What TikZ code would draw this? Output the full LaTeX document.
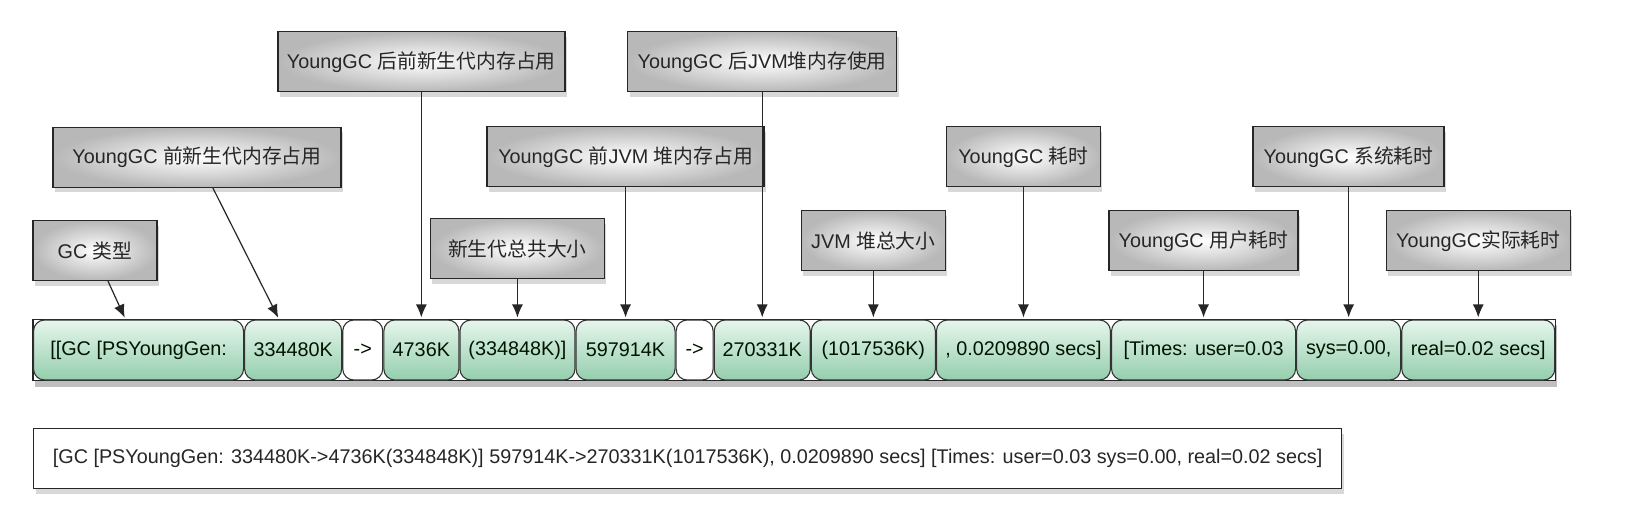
\documentclass[tikz,border=0pt]{standalone}
\usepackage{fontspec}
\setmainfont{Liberation Sans}
\newfontfamily\cjk{Noto Sans CJK SC}
\usetikzlibrary{shapes, arrows.meta, calc, positioning, shadows, backgrounds}

\definecolor{segtop}{HTML}{E6F6EC}
\definecolor{segbot}{HTML}{94CEAD}
\definecolor{ink}{HTML}{262626}

\begin{document}
\begin{tikzpicture}[x=1pt, y=-1pt, node distance=0pt, >={Latex[length=13pt,width=11pt]},
    txt/.style={font=\fontsize{19.8}{23}\selectfont, text=ink},
    seg/.style={txt, draw=black!80, line width=1.1pt, rounded corners=11pt,
        top color=segtop, bottom color=segbot, minimum height=60pt, inner sep=2pt, text=black!92!green},
    gap/.style={seg, top color=white, bottom color=white},
    frame/.style={draw=black!85, line width=1.6pt, fill=white,
        drop shadow={shadow xshift=2pt, shadow yshift=-6pt, opacity=0.5}},
    tag/.style={txt, draw=black!85, line width=1.4pt, inner color=white, outer color=black!28,
        minimum height=60pt, inner sep=2pt,
        drop shadow={shadow xshift=2pt, shadow yshift=-5pt, opacity=0.3}},
    link/.style={->, line width=1.2pt, draw=ink, shorten >=2pt}]
    \useasboundingbox (0,0) rectangle (1651,505);

    % GC log split into fields
    \node [seg, minimum width=210pt, anchor=west] (s1) at (33,350) {[[GC [PSYoungGen:};
    \node [seg, minimum width=97pt, right=of s1] (s2) {334480K};
    \node [gap, minimum width=40pt, right=of s2] (s3) {->};
    \node [seg, minimum width=75pt, right=of s3] (s4) {4736K};
    \node [seg, minimum width=115pt, right=of s4] (s5) {(334848K)]};
    \node [seg, minimum width=99pt, right=of s5] (s6) {597914K};
    \node [gap, minimum width=37pt, right=of s6] (s7) {->};
    \node [seg, minimum width=96pt, right=of s7] (s8) {270331K};
    \node [seg, minimum width=124pt, right=of s8] (s9) {(1017536K)};
    \node [seg, minimum width=174pt, right=of s9] (s10) {, 0.0209890 secs]};
    \node [seg, minimum width=184pt, right=of s10] (s11) {[Times: user=0.03};
    \node [seg, minimum width=104pt, right=of s11] (s12) {sys=0.00,};
    \node [seg, minimum width=153pt, right=of s12] (s13) {real=0.02 secs]};

    % Whole log line
    \node [txt, draw=black!85, line width=1.4pt, fill=white, minimum width=1308pt, minimum height=60pt,
        anchor=north west, drop shadow={shadow xshift=2pt, shadow yshift=-5pt, opacity=0.3}] (raw) at (33,428)
        {[GC [PSYoungGen: 334480K->4736K(334848K)] 597914K->270331K(1017536K), 0.0209890 secs] [Times: user=0.03 sys=0.00, real=0.02 secs]};

    % Field labels
    \node [tag, minimum width=124pt] (gctype) at (95,250.5) {GC {\cjk 类型}};
    \node [tag, minimum width=288pt] (newpre) at (197,157.5) {YoungGC {\cjk 前新生代内存占用}};
    \node [tag, minimum width=287pt, above=227pt of s4] (newpost) {YoungGC {\cjk 后前新生代内存占用}};
    \node [tag, minimum width=174pt, above=40pt of s5] (newsize) {{\cjk 新生代总共大小}};
    \node [tag, minimum width=277pt, above=132pt of s6] (heappre) {YoungGC {\cjk 前}JVM {\cjk 堆内存占用}};
    \node [tag, minimum width=269pt, above=227pt of s8] (heappost) {YoungGC {\cjk 后}JVM{\cjk 堆内存使用}};
    \node [tag, minimum width=144pt, above=48pt of s9] (heapsize) {JVM {\cjk 堆总大小}};
    \node [tag, minimum width=154pt, above=132pt of s10] (gctime) {YoungGC {\cjk 耗时}};
    \node [tag, minimum width=189pt, above=48pt of s11] (usertime) {YoungGC {\cjk 用户耗时}};
    \node [tag, minimum width=191pt, above=132pt of s12] (systime) {YoungGC {\cjk 系统耗时}};
    \node [tag, minimum width=184pt, above=48pt of s13] (realtime) {YoungGC{\cjk 实际耗时}};

    % Connections
    \draw [link] ([xshift=13pt]gctype.south) -- ([xshift=-13pt]s1.north);
    \draw [link] ([xshift=16pt]newpre.south) -- ([xshift=-14pt]s2.north);
    \draw [link] (newpost) -- (s4);
    \draw [link] (newsize) -- (s5);
    \draw [link] (heappre) -- (s6);
    \draw [link] (heappost) -- (s8);
    \draw [link] (heapsize) -- (s9);
    \draw [link] (gctime) -- (s10);
    \draw [link] (usertime) -- (s11);
    \draw [link] (systime) -- (s12);
    \draw [link] (realtime) -- (s13);

    \begin{scope}[on background layer]
        \fill [white] (0,0) rectangle (1651,505);
        \draw [frame] (s1.north west) rectangle (s13.south east);
    \end{scope}
\end{tikzpicture}
\end{document}
